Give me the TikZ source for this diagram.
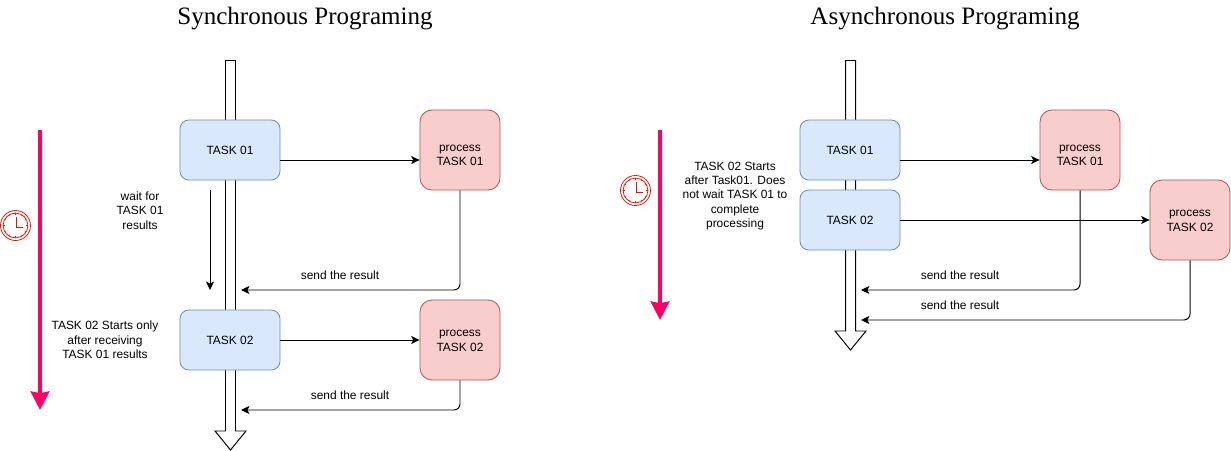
\documentclass[tikz,border=0pt]{standalone}
\usepackage{fontspec}
\setmainfont{Liberation Sans}
\newfontfamily\titlefont{Liberation Serif}
\usetikzlibrary{arrows.meta}
\definecolor{taskfill}{HTML}{DAE8FC}
\definecolor{taskline}{HTML}{6C8EBF}
\definecolor{procfill}{HTML}{F8CECC}
\definecolor{procline}{HTML}{B85450}
\definecolor{timeline}{HTML}{FF0066}
\definecolor{clockline}{HTML}{E51400}
\tikzset{
  taskbox/.style={draw=taskline,fill=taskfill,rounded corners=.22cm,minimum width=2.5cm,minimum height=1.5cm,line width=.6pt},
  procbox/.style={draw=procline,fill=procfill,rounded corners=.3cm,minimum width=2cm,minimum height=2cm,line width=.6pt},
  note/.style={align=center,font=\fontsize{8.5}{10.2}\selectfont,inner sep=0pt},
  headline/.style={font=\titlefont\fontsize{17.8}{20}\selectfont,inner sep=0pt},
  conn/.style={line width=.7pt,rounded corners=.15cm,-{Stealth[length=.21cm,width=.2cm,inset=.05cm]}},
  timearrow/.style={timeline,line width=.1cm,-{Stealth[length=.46cm,width=.46cm,inset=.04cm]}},
  clockicon/.pic={
    \draw[clockline,line width=.55pt] (0,0) circle (.375cm);
    \draw[clockline,line width=.55pt] (0,0) circle (.31cm);
    \foreach \a in {0,30,...,330}
      \draw[clockline,line width=.4pt] (\a:.31cm) -- (\a:.27cm);
    \draw[clockline,line width=.6pt] (.02cm,.2cm) -- (.02cm,-.06cm) -- (.18cm,-.06cm);
  }
}
\begin{document}
\begin{tikzpicture}[x=.025cm,y=-.025cm,every node/.append style={font=\fontsize{8.5}{10.2}\selectfont}]
\useasboundingbox (0,0) rectangle (1231,451);
% program flow
\foreach \x/\y in {230.5/431,850.5/331}
  \draw[line width=.7pt,fill=white] (\x-5,60.5) -- (\x+5,60.5) -- (\x+5,\y) -- (\x+15.5,\y) -- (\x,\y+19) -- (\x-15.5,\y) -- (\x-5,\y) -- cycle;

% synchronous
\node[headline] (synctitle) at (305,18.5) {Synchronous Programing};
\coordinate (stime1) at (40,130);
\coordinate (stime2) at (40,410);
\draw[timearrow] (stime1) -- (stime2);
\pic at (15.5,225.5) {clockicon};
\node[taskbox] (stask1) at (230,150) {TASK 01};
\node[taskbox] (stask2) at (230,340) {TASK 02};
\node[procbox] (sproc1) at (460,150) {};
\node[procbox] (sproc2) at (460,340) {};
\node[note] (sproc1text) at (460,155.5) {process\\TASK 01};
\node[note] (sproc2text) at (460,341) {process\\TASK 02};
\coordinate (swait1) at (210,190);
\coordinate (swait2) at (210,290);
\coordinate (sback1) at (241,290);
\coordinate (sback2) at (241,410);
\draw[conn] ([yshift=-.25cm]stask1.east) -- ([yshift=-.25cm]sproc1.west);
\draw[conn] (stask2) -- (sproc2);
\draw[conn] (swait1) -- (swait2);
\draw[conn] (sproc1.south) |- (sback1);
\draw[conn] (sproc2.south) |- (sback2);
\node[note] (swaitlabel) at (140,210.5) {wait for\\TASK 01\\results};
\node[note] (sstartlabel) at (105,340) {TASK 02 Starts only\\after receiving\\TASK 01 results};
\node[note] (sback1label) at (340,275) {send the result};
\node[note] (sback2label) at (350,395.5) {send the result};

% asynchronous
\node[headline] (asynctitle) at (945,18.5) {Asynchronous Programing};
\coordinate (atime1) at (660,130);
\coordinate (atime2) at (660,320);
\draw[timearrow] (atime1) -- (atime2);
\pic at (635.5,190.5) {clockicon};
\node[taskbox] (atask1) at (850,150) {TASK 01};
\node[taskbox] (atask2) at (850,220) {TASK 02};
\node[procbox] (aproc1) at (1080,150) {};
\node[procbox] (aproc2) at (1190,220) {};
\node[note] (aproc1text) at (1080,155.5) {process\\TASK 01};
\node[note] (aproc2text) at (1190,221) {process\\TASK 02};
\coordinate (aback1) at (861,290);
\coordinate (aback2) at (861,320);
\draw[conn] ([yshift=-.25cm]atask1.east) -- ([yshift=-.25cm]aproc1.west);
\draw[conn] (atask2) -- (aproc2);
\draw[conn] (aproc1.south) |- (aback1);
\draw[conn] (aproc2.south) |- (aback2);
\node[note] (astartlabel) at (735,196) {TASK 02 Starts\\after Task01. Does\\not wait TASK 01 to\\complete\\processing};
\node[note] (aback1label) at (960,275) {send the result};
\node[note] (aback2label) at (960,305) {send the result};
\end{tikzpicture}
\end{document}
